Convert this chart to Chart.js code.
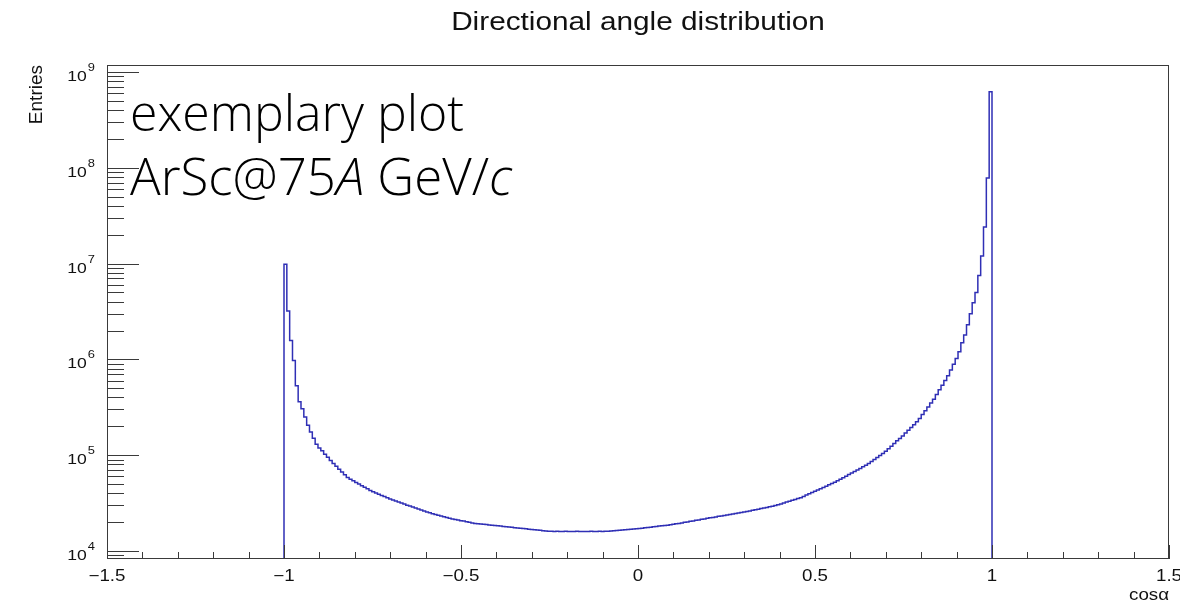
<!DOCTYPE html>
<html>
<head>
<meta charset="utf-8">
<script src="https://cdn.jsdelivr.net/npm/chart.js@4.4.1/dist/chart.umd.min.js"></script>
<style>
  html, body { margin: 0; padding: 0; background: #fff; }
  #wrap { width: 1180px; height: 604px; }
</style>
</head>
<body>
<div id="wrap"><canvas id="hist" width="1180" height="604"></canvas></div>
<script>
// histogram range (cos alpha) and bin contents
const binLow = -1.0;
const binHigh = 1.0;
const entries = [
    9.8e6, 3.2e6, 1.57e6, 9.7e5, 5.3e5, 3.6e5, 3.05e5, 2.5e5, 2.05e5, 1.75e5, 1.5e5, 1.3e5,
    1.19e5, 1.11e5, 1.02e5, 9.5e4, 8.8e4, 8.2e4, 7.65e4, 7.14e4, 6.68e4, 6.25e4, 5.84e4,
    5.62e4, 5.41e4, 5.2e4, 5.0e4, 4.81e4, 4.62e4, 4.45e4, 4.28e4,
    4.15e4, 4.03e4, 3.92e4, 3.8e4, 3.7e4, 3.6e4, 3.49e4,
    3.4e4, 3.32e4, 3.24e4, 3.16e4, 3.09e4, 3.01e4, 2.94e4, 2.87e4,
    2.81e4, 2.74e4, 2.68e4, 2.62e4, 2.56e4, 2.51e4, 2.45e4,
    2.4e4, 2.36e4, 2.32e4, 2.28e4, 2.23e4, 2.2e4,
    2.16e4, 2.13e4, 2.1e4, 2.07e4, 2.05e4, 2.02e4, 1.99e4, 1.96e4,
    1.94e4, 1.93e4, 1.91e4, 1.9e4, 1.89e4, 1.87e4, 1.86e4, 1.85e4, 1.83e4, 1.82e4, 1.8e4, 1.79e4,
    1.78e4, 1.77e4, 1.75e4, 1.74e4, 1.73e4, 1.72e4, 1.71e4, 1.69e4, 1.68e4, 1.67e4, 1.66e4, 1.65e4,
    1.63e4, 1.62e4, 1.61e4,
    1.61e4, 1.6e4, 1.61e4, 1.6e4, 1.6e4, 1.61e4, 1.6e4, 1.6e4, 1.6e4, 1.61e4, 1.6e4,
    1.6e4, 1.6e4, 1.6e4, 1.61e4, 1.6e4, 1.6e4, 1.61e4, 1.6e4, 1.61e4, 1.61e4,
    1.62e4, 1.63e4, 1.64e4, 1.65e4, 1.66e4, 1.67e4, 1.68e4, 1.69e4, 1.7e4, 1.71e4, 1.72e4,
    1.73e4, 1.75e4, 1.76e4, 1.77e4, 1.79e4, 1.8e4, 1.82e4, 1.83e4, 1.85e4, 1.86e4, 1.88e4, 1.9e4,
    1.92e4, 1.94e4, 1.96e4, 1.99e4, 2.01e4, 2.04e4, 2.06e4, 2.09e4, 2.11e4, 2.14e4, 2.16e4, 2.19e4,
    2.22e4, 2.24e4, 2.27e4, 2.3e4, 2.32e4, 2.35e4, 2.38e4, 2.41e4, 2.43e4, 2.46e4, 2.49e4,
    2.52e4, 2.55e4, 2.59e4, 2.62e4, 2.66e4, 2.7e4, 2.73e4, 2.77e4, 2.81e4, 2.85e4, 2.89e4, 2.93e4,
    2.98e4, 3.04e4, 3.1e4, 3.17e4, 3.24e4, 3.31e4, 3.38e4, 3.45e4, 3.53e4, 3.6e4,
    3.71e4, 3.83e4, 3.95e4, 4.07e4, 4.2e4, 4.33e4, 4.47e4, 4.6e4, 4.75e4, 4.9e4, 5.06e4,
    5.21e4, 5.41e4, 5.61e4, 5.82e4, 6.04e4, 6.27e4, 6.5e4, 6.76e4, 7.01e4, 7.27e4, 7.55e4, 7.83e4,
    8.17e4, 8.59e4, 9.02e4, 9.46e4, 9.95e4, 1.04e5,
    1.1e5, 1.17e5, 1.24e5, 1.32e5, 1.41e5, 1.49e5,
    1.59e5, 1.7e5, 1.82e5, 1.95e5, 2.08e5, 2.23e5,
    2.41e5, 2.65e5, 2.91e5, 3.19e5, 3.51e5, 3.84e5,
    4.29e5, 4.81e5, 5.38e5, 6.03e5,
    6.76e5, 7.74e5, 8.87e5, 1.02e6,
    1.2e6, 1.49e6, 1.8e6, 2.3e6, 3.0e6, 3.9e6, 5.0e6, 7.5e6, 1.2e7, 2.4e7, 7.8e7, 6.2e8
];

// axes
const xRange = [-1.5, 1.5];
const yRange = [8.25e3, 1.18e9];
const xMajorTicks = [-1.5, -1, -0.5, 0, 0.5, 1, 1.5];
const xTickLabels = ['\u22121.5', '\u22121', '\u22120.5', '0', '0.5', '1', '1.5'];
const yDecades = [4, 5, 6, 7, 8, 9];

const titleText = 'Directional angle distribution';
const xTitle = 'cos\u03b1';
const yTitle = 'Entries';
const noteLine1 = 'exemplary plot';

const FONT = '"Liberation Sans", Arial, Helvetica, sans-serif';
const NOTE_FONT = '"Open Sans", "Noto Sans", sans-serif';

// outline of the histogram as points at the bin edges
function histPoints() {
    const w = (binHigh - binLow) / entries.length;
    const pts = [{ x: binLow, y: yRange[0] }];
    entries.forEach((v, i) => pts.push({ x: binLow + i * w, y: v }));
    pts.push({ x: binHigh, y: entries[entries.length - 1] });
    pts.push({ x: binHigh, y: yRange[0] });
    return pts;
}

// text drawn a bit wider, like the ROOT png
function wideText(ctx, txt, x, y, sx, align) {
    ctx.save();
    ctx.translate(x, y);
    ctx.scale(sx, 1);
    ctx.textAlign = align;
    ctx.fillText(txt, 0, 0);
    ctx.restore();
}

const rootAxes = {
    id: 'rootAxes',
    afterDraw(chart) {
        const ctx = chart.ctx;
        const a = chart.chartArea;
        const xs = chart.scales.x;
        const ys = chart.scales.y;
        ctx.save();
        ctx.strokeStyle = '#3a3a3a';
        ctx.lineWidth = 1;
        ctx.strokeRect(a.left + 0.5, a.top + 0.5, a.right - a.left - 1, a.bottom - a.top - 1);

        // x ticks, 0.1 apart, long every 0.5
        ctx.beginPath();
        for (let k = Math.round(xRange[0] * 10); k <= Math.round(xRange[1] * 10); k++) {
            const px = Math.round(xs.getPixelForValue(k / 10)) + 0.5;
            const len = (k % 5 === 0) ? 14 : 7;
            ctx.moveTo(px, a.bottom);
            ctx.lineTo(px, a.bottom - len);
        }
        // y ticks, log decades
        for (let d = yDecades[0] - 1; d <= yDecades[yDecades.length - 1]; d++) {
            for (let m = 1; m <= 9; m++) {
                const v = m * Math.pow(10, d);
                if (v < yRange[0] || v > yRange[1]) continue;
                const py = Math.round(ys.getPixelForValue(v)) + 0.5;
                const len = (m === 1) ? 32 : 17;
                ctx.moveTo(a.left, py);
                ctx.lineTo(a.left + len, py);
            }
        }
        ctx.stroke();

        ctx.fillStyle = '#111';
        ctx.textBaseline = 'alphabetic';

        // x tick labels
        ctx.font = '16px ' + FONT;
        xMajorTicks.forEach((v, i) => {
            wideText(ctx, xTickLabels[i], xs.getPixelForValue(v), a.bottom + 22, 1.17, 'center');
        });

        // y tick labels 10^n
        yDecades.forEach(d => {
            const py = ys.getPixelForValue(Math.pow(10, d));
            ctx.font = '11px ' + FONT;
            const supW = ctx.measureText(String(d)).width * 1.17;
            wideText(ctx, String(d), a.left - 12 - supW, py - 1, 1.17, 'left');
            ctx.font = '15px ' + FONT;
            wideText(ctx, '10', a.left - 13 - supW, py + 9, 1.17, 'right');
        });

        // axis titles
        ctx.font = '16px ' + FONT;
        wideText(ctx, xTitle, a.right, 600, 1.17, 'right');
        ctx.save();
        ctx.translate(41.5, a.top);
        ctx.rotate(-Math.PI / 2);
        ctx.font = '19px ' + FONT;
        ctx.textAlign = 'right';
        ctx.fillText(yTitle, 0, 0);
        ctx.restore();

        // title
        ctx.font = '25px ' + FONT;
        wideText(ctx, titleText, (a.left + a.right) / 2, 30, 1.19, 'center');

        // overlay note
        ctx.fillStyle = '#000';
        ctx.textAlign = 'left';
        ctx.font = '300 50px ' + NOTE_FONT;
        ctx.fillText(noteLine1, 130, 131);
        const parts = [['ArSc@75', false], ['A', true], [' GeV/', false], ['c', true]];
        let nx = 130;
        parts.forEach(([t, it]) => {
            ctx.font = (it ? 'italic ' : '') + '300 51px ' + NOTE_FONT;
            ctx.fillText(t, nx, 195);
            nx += ctx.measureText(t).width;
        });
        ctx.restore();
    }
};

new Chart(document.getElementById('hist'), {
    type: 'line',
    data: {
        datasets: [{
            label: 'cos\u03b1',
            data: histPoints(),
            stepped: 'before',
            borderColor: '#2f2fb5',
            borderWidth: 1.5,
            pointRadius: 0,
            fill: false,
            tension: 0
        }]
    },
    options: {
        responsive: false,
        animation: false,
        devicePixelRatio: 1,
        layout: { padding: { left: 107, right: 11, top: 65, bottom: 45 } },
        plugins: {
            legend: { display: false },
            tooltip: { enabled: false },
            title: { display: false }
        },
        scales: {
            x: { type: 'linear', min: xRange[0], max: xRange[1], display: false },
            y: { type: 'logarithmic', min: yRange[0], max: yRange[1], display: false }
        }
    },
    plugins: [rootAxes]
});
</script>
</body>
</html>
